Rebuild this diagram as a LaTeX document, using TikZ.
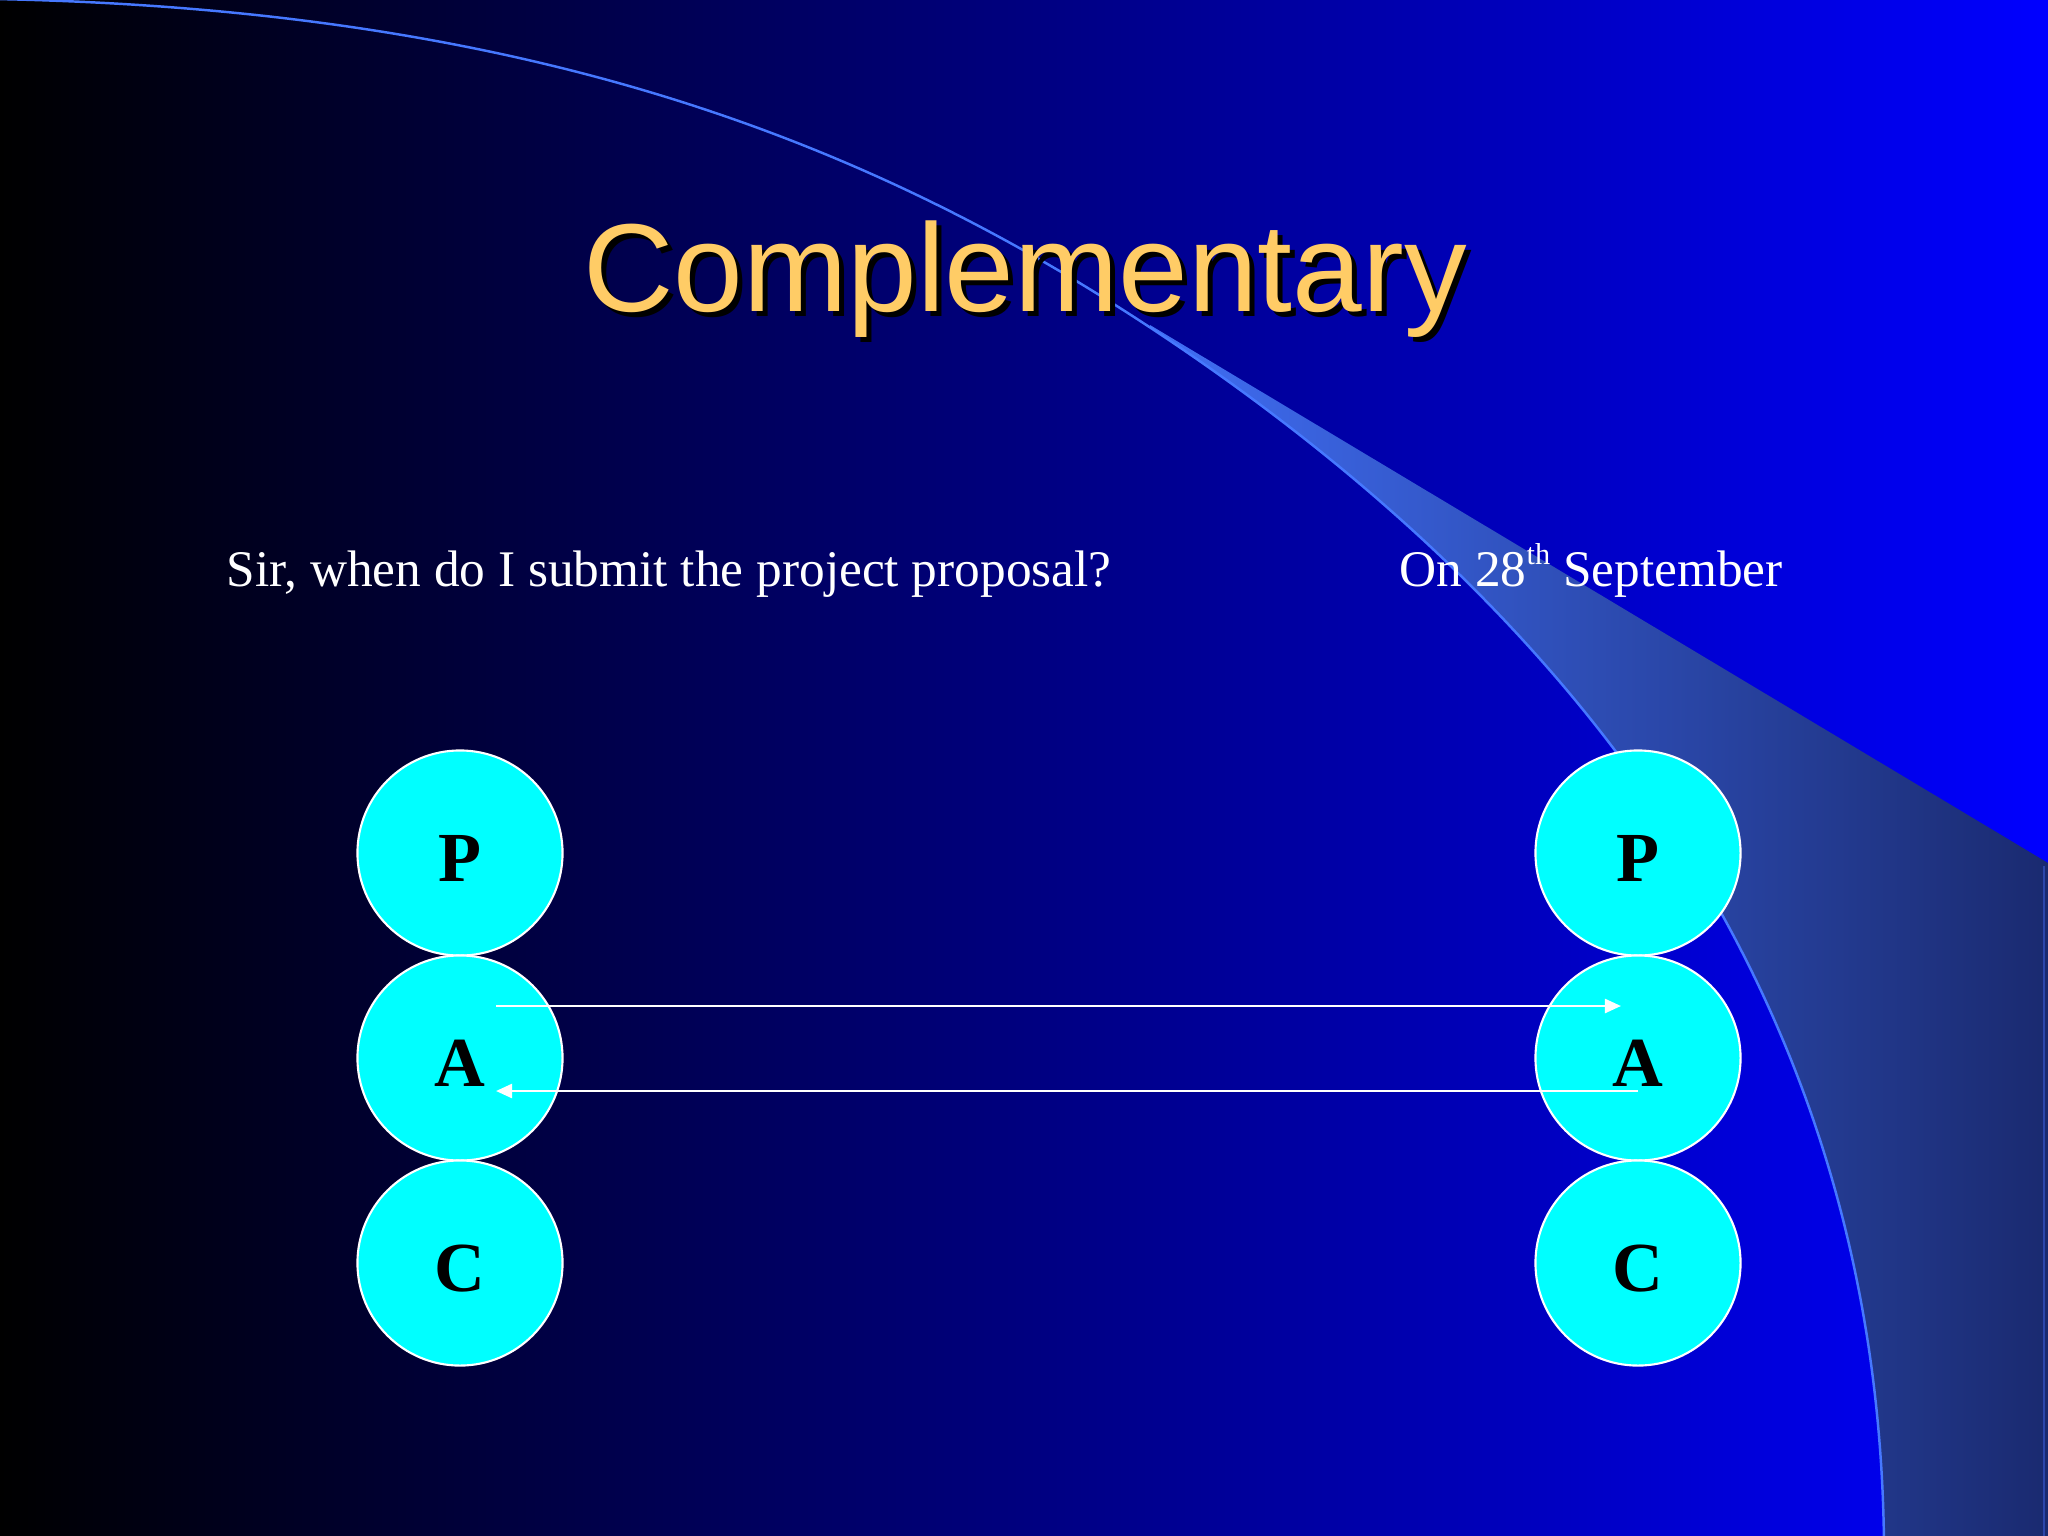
\documentclass[tikz,border=0pt]{standalone}
\usepackage{fontspec}
\setmainfont{Liberation Serif}
\newfontfamily\titlefont{Liberation Sans}
\usetikzlibrary{arrows.meta}
\definecolor{bgblue}{RGB}{0,0,255}
\definecolor{bandlight}{RGB}{64,110,245}
\definecolor{banddark}{RGB}{26,42,112}
\definecolor{bandedge}{RGB}{45,70,170}
\definecolor{swooshline}{RGB}{70,120,255}
\definecolor{titlegold}{RGB}{255,204,102}
\definecolor{pcyan}{RGB}{0,255,255}
\newcommand{\circletter}[1]{\raisebox{-0.5mm}[\height][0pt]{#1}}
\tikzset{
  pac/.style={circle, draw=white, line width=0.6pt, fill=pcyan, minimum size=2.05cm, inner sep=0pt,
    font=\fontsize{20pt}{24pt}\selectfont\bfseries, text=black},
  saytext/.style={anchor=base west, text=white, font=\fontsize{14.6pt}{17pt}\selectfont, inner sep=0pt},
  titletext/.style={anchor=base, font=\titlefont\fontsize{35.6pt}{40pt}\selectfont, inner sep=0pt},
  arr/.style={draw=white, line width=0.75pt, -{Triangle[length=4.6pt,width=4pt]}},
  swoosh/.style={swooshline, line width=0.7pt}
}
\begin{document}
\begin{tikzpicture}[x=0.01cm,y=-0.01cm]
\useasboundingbox (0,0) rectangle (2048,1536);
% background
\shade[left color=black, right color=bgblue] (0,0) rectangle (2048,1536);
% band
\begin{scope}
  \clip (-5,-1) .. controls (550,10) and (900,150) .. (1211,369)
        .. controls (1680,700) and (1880,1100) .. (1884,1545)
        -- (2060,1545) -- (2060,-20) -- (-5,-20) -- cycle;
  \shade[left color=bandlight, right color=banddark] (1150,325) -- (2048,863) -- (2048,1545) -- (1150,1545) -- cycle;
\end{scope}
\draw[bandedge, line width=0.5pt] (2044,866) -- (2044,1536);
\draw[swoosh] (-5,-1) .. controls (550,10) and (900,150) .. (1211,369)
        .. controls (1680,700) and (1880,1100) .. (1884,1545);
% title
\node[titletext, text=black] (titleshadow) at (1030,316) {Complementary};
\node[titletext, text=titlegold] (title) at (1025,311) {Complementary};
% dialogue
\node[saytext] (question) at (226,586) {Sir, when do I submit the project proposal?};
\node[saytext] (answer) at (1399,586) {On 28\raisebox{0.42em}{\fontsize{8.6pt}{10pt}\selectfont th} September};
% circles
\node[pac] (LP) at (460,853) {\circletter{P}};
\node[pac] (LA) at (460,1058) {\circletter{A}};
\node[pac] (LC) at (460,1263) {\circletter{C}};
\node[pac] (RP) at (1638,853) {\circletter{P}};
\node[pac] (RA) at (1638,1058) {\circletter{A}};
\node[pac] (RC) at (1638,1263) {\circletter{C}};
% arrows
\coordinate (u1) at ([shift={(36,-52)}]LA.center);
\coordinate (u2) at ([shift={(-17,-52)}]RA.center);
\coordinate (d1) at ([shift={(0,33)}]RA.center);
\coordinate (d2) at ([shift={(36,33)}]LA.center);
\draw[arr] (u1) -- (u2);
\draw[arr] (d1) -- (d2);
\end{tikzpicture}
\end{document}
